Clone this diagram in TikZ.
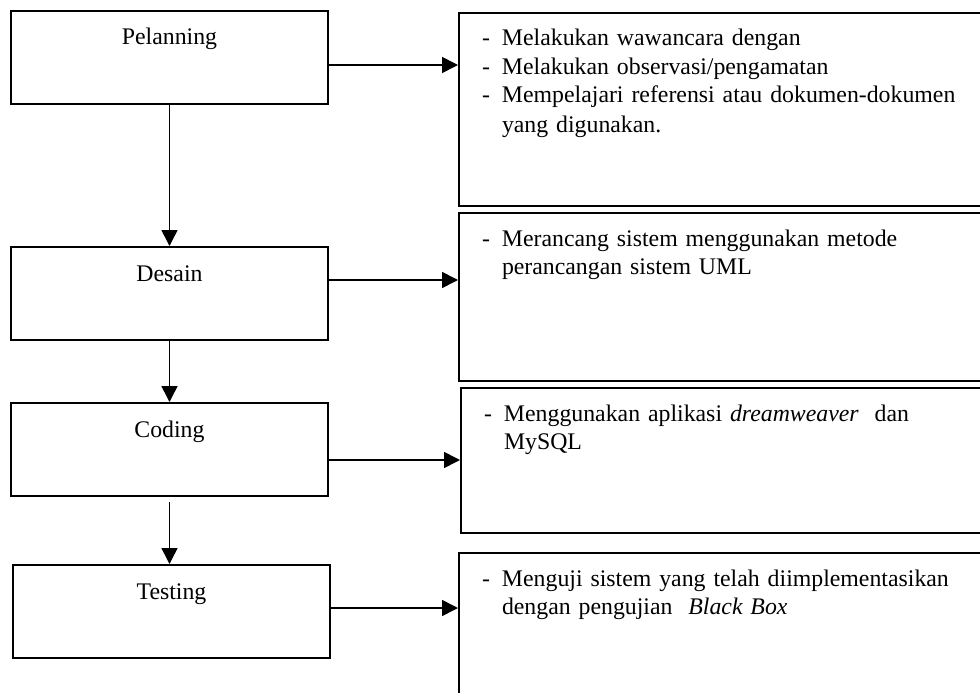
\documentclass[tikz,border=0pt]{standalone}
\usepackage{fontspec}
\setmainfont{Liberation Serif}
\usetikzlibrary{arrows.meta}
\newcommand{\itemdash}{\makebox[20pt][l]{-}}

\begin{document}
\begin{tikzpicture}[
  x=1pt, y=-1pt,
  phase/.style={rectangle, draw, line width=2pt, minimum width=317pt, inner xsep=0pt, inner ysep=0pt, text height=34pt, text depth=59pt, font=\fontsize{23.8}{28.5}\selectfont},
  task/.style={rectangle, draw, line width=2pt, anchor=north west, text width=500pt, align=left, inner xsep=23pt, inner ysep=0pt, text height=33pt, font=\fontsize{23.8}{28.5}\selectfont},
  arr/.style={-{Triangle[length=16pt,width=16pt]}, line width=1.6pt},
  node distance=2cm
]
\useasboundingbox (0,0) rectangle (980,693);

\node[phase] (plan) at (169.5,57.5) {Pelanning};
\node[phase, below of=plan, node distance=236pt] (desain) {Desain};
\node[phase, below of=desain, node distance=156pt] (coding) {Coding};
\node[phase, below of=coding, node distance=162pt, xshift=2pt] (testing) {Testing};

\node[task, text depth=160pt] (tplan) at (458,12) {\itemdash Melakukan wawancara dengan\\
  \itemdash Melakukan observasi/pengamatan\\
  \itemdash Mempelajari referensi atau dokumen-dokumen\\[1.5pt]
  \hspace*{20pt}yang digunakan.};
\node[task, text depth=135pt] (tdesain) at (458,212) {\itemdash Merancang sistem menggunakan metode\\
  \hspace*{20pt}perancangan sistem UML};
\node[task, text depth=112pt] (tcoding) at (460,387) {\itemdash Menggunakan aplikasi \textit{dreamweaver}\ \ dan\\
  \hspace*{20pt}MySQL};
\node[task, text depth=160pt] (ttesting) at (458,552) {\itemdash Menguji sistem yang telah diimplementasikan\\
  \hspace*{20pt}dengan pengujian\ \ \textit{Black Box}};

\draw[arr] (plan) -- (desain);
\draw[arr] (desain) -- (coding);
\draw[arr] ([yshift=-5pt]coding.south) -- (coding.south |- testing.north);

\draw[arr] ([yshift=-7.5pt]plan.east) coordinate (a1) -- (a1 -| tplan.west);
\draw[arr] ([yshift=13.5pt]desain.east) coordinate (a2) -- (a2 -| tdesain.west);
\draw[arr] ([yshift=-10.5pt]coding.east) coordinate (a3) -- (a3 -| tcoding.west);
\draw[arr] ([yshift=3.5pt]testing.east) coordinate (a4) -- (a4 -| ttesting.west);
\end{tikzpicture}
\end{document}
